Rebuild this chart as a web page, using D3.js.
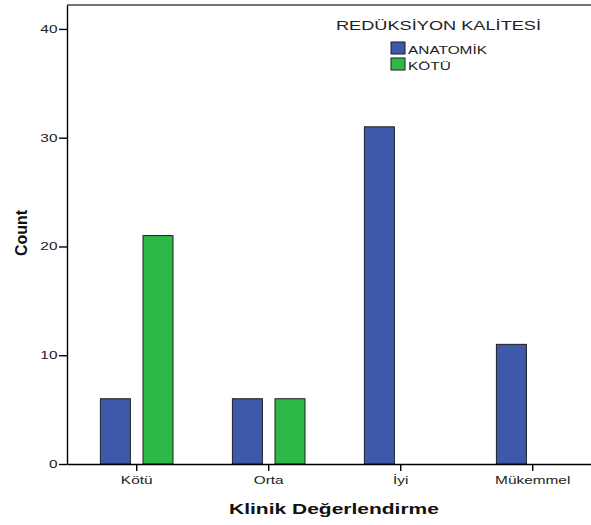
<!DOCTYPE html>
<html>
<head>
<meta charset="utf-8">
<script src="https://cdn.jsdelivr.net/npm/d3@7"></script>
<style>
  html, body { margin: 0; padding: 0; background: #fff; }
  svg { display: block; font-family: "Liberation Sans", Arial, sans-serif; }
</style>
</head>
<body>
<svg id="chart" width="591" height="525"></svg>
<script>
// ---- data ----
const categories = ["Kötü", "Orta", "İyi", "Mükemmel"];
const seriesNames = ["ANATOMİK", "KÖTÜ"];
const anatomikValues = [6, 6, 31, 11];
const kotuValues = [21, 6, 0, 0];
const yTickValues = [0, 10, 20, 30, 40];
const seriesColors = ["#3e58ac", "#2eb848"];
const legendTitle = "REDÜKSİYON KALİTESİ";
const xTitle = "Klinik Değerlendirme";
const yTitle = "Count";

(function () {
// ---- layout ----
const svg = d3.select("#chart");
const W = 591;
const mLeft = 67, mBottom = 464, mTop = 5;
const stretchK = 1.4; // horizontal glyph stretch seen in the reference

const x0 = d3.scaleBand()
  .domain(categories)
  .range([mLeft, 602.4])
  .paddingInner(0)
  .paddingOuter(0.028);

const x1 = d3.scaleBand()
  .domain(seriesNames)
  .range([-36.3, 36.3])
  .paddingInner(0.296)
  .paddingOuter(0);

const y = d3.scaleLinear().domain([0, 42.2]).range([mBottom, mTop]);
const color = d3.scaleOrdinal().domain(seriesNames).range(seriesColors);

const data = categories.map((c, i) => ({
  cat: c,
  values: [
    { s: seriesNames[0], v: anatomikValues[i] },
    { s: seriesNames[1], v: kotuValues[i] }
  ]
}));

// top frame line
svg.append("line")
  .attr("x1", mLeft).attr("x2", W)
  .attr("y1", y(42.2)).attr("y2", y(42.2))
  .attr("stroke", "#444").attr("stroke-width", 1.6);

// bars
const groups = svg.append("g").selectAll("g")
  .data(data).join("g")
  .attr("transform", d => `translate(${x0(d.cat) + x0.bandwidth() / 2},0)`);

groups.selectAll("rect")
  .data(d => d.values).join("rect")
  .attr("x", d => x1(d.s))
  .attr("width", x1.bandwidth())
  .attr("y", d => y(d.v))
  .attr("height", d => y(0) - y(d.v))
  .attr("fill", d => color(d.s))
  .attr("stroke", "#1e1e1e")
  .attr("stroke-width", 1);

// y axis
const yAxis = svg.append("g")
  .attr("transform", `translate(${mLeft},0)`)
  .call(d3.axisLeft(y).tickValues(yTickValues).tickSize(8).tickPadding(1.5).tickSizeOuter(0));
yAxis.select(".domain").attr("stroke", "#000").attr("stroke-width", 1.4);
yAxis.selectAll(".tick line").attr("stroke", "#000").attr("stroke-width", 1.4);
yAxis.selectAll(".tick text")
  .attr("font-size", 11)
  .attr("font-family", "Liberation Sans, Arial, sans-serif")
  .attr("fill", "#222")
  .attr("x", -9.5 / stretchK)
  .attr("transform", `scale(${stretchK},1)`);

// x axis
const xAxis = svg.append("g")
  .attr("transform", `translate(0,${mBottom})`)
  .call(d3.axisBottom(x0).tickSize(7).tickPadding(5).tickSizeOuter(0));
xAxis.select(".domain").attr("stroke", "#000").attr("stroke-width", 1.4);
xAxis.selectAll(".tick line").attr("stroke", "#000").attr("stroke-width", 1.4);
xAxis.selectAll(".tick text")
  .attr("font-size", 11)
  .attr("font-family", "Liberation Sans, Arial, sans-serif")
  .attr("fill", "#222")
  .attr("transform", `scale(${stretchK},1)`);

// x title
svg.append("text")
  .attr("transform", `translate(334,514) scale(1.4,1)`)
  .attr("text-anchor", "middle")
  .attr("font-size", 15)
  .attr("font-weight", "bold")
  .attr("fill", "#111")
  .text(xTitle);

// y title
svg.append("text")
  .attr("transform", `translate(27,233) rotate(-90)`)
  .attr("text-anchor", "middle")
  .attr("font-size", 16)
  .attr("font-weight", "bold")
  .attr("fill", "#111")
  .text(yTitle);

// legend
const legend = svg.append("g");
legend.append("text")
  .attr("transform", `translate(438.5,30) scale(${stretchK},1)`)
  .attr("text-anchor", "middle")
  .attr("font-size", 13)
  .attr("fill", "#222")
  .text(legendTitle);

const items = legend.selectAll("g.item")
  .data(seriesNames).join("g")
  .attr("class", "item")
  .attr("transform", (d, i) => `translate(391,${42 + i * 16})`);
items.append("rect")
  .attr("width", 14).attr("height", 12)
  .attr("fill", d => color(d))
  .attr("stroke", "#1e1e1e").attr("stroke-width", 1);
items.append("text")
  .attr("transform", `translate(17,12) scale(${stretchK},1)`)
  .attr("font-size", 11)
  .attr("fill", "#222")
  .text(d => d);
})();
</script>
</body>
</html>
